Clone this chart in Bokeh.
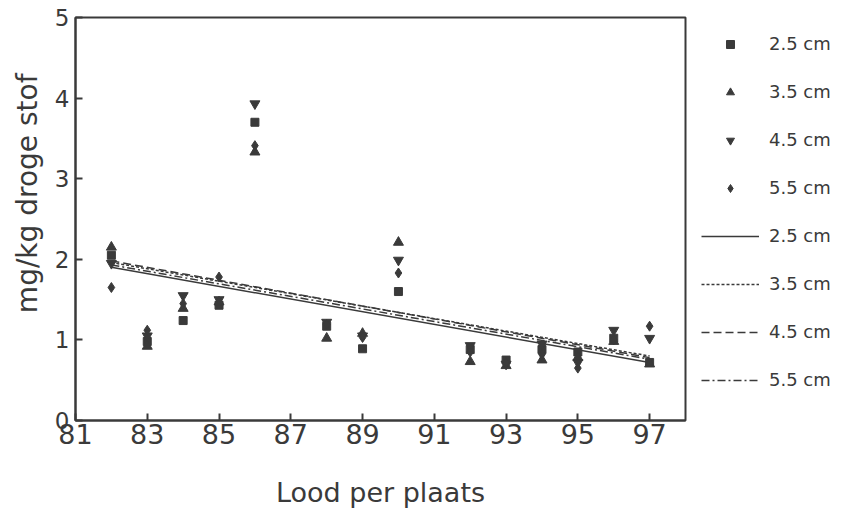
from bokeh.plotting import figure
from bokeh.models import FixedTicker, Legend, LegendItem, Title, Range1d
from bokeh.embed import file_html
from bokeh.resources import INLINE

# ---- data ----
x_vals = [82, 83, 84, 85, 86, 88, 89, 90, 92, 93, 94, 95, 96, 97]
s25 = [2.05, 0.98, 1.24, 1.43, 3.70, 1.17, 0.89, 1.60, 0.88, 0.75, 0.88, 0.85, 1.02, 0.72]
s35 = [2.15, 0.92, 1.39, 1.47, 3.33, 1.02, 1.08, 2.21, 0.73, 0.68, 0.75, 0.78, 0.98, 0.70]
s45 = [1.95, 1.05, 1.55, 1.50, 3.93, 1.22, 1.05, 1.99, 0.93, 0.70, 0.95, 0.72, 1.12, 1.02]
s55 = [1.65, 1.12, 1.45, 1.78, 3.41, 1.19, 1.03, 1.83, 0.85, 0.72, 0.82, 0.65, 1.00, 1.17]

line_x = [82, 97]
fit25 = [1.90, 0.72]
fit35 = [1.96, 0.80]
fit45 = [1.98, 0.78]
fit55 = [1.93, 0.76]

series_labels = ["2.5 cm", "3.5 cm", "4.5 cm", "5.5 cm"]
x_ticks = [81, 83, 85, 87, 89, 91, 93, 95, 97]
y_ticks = [0, 1, 2, 3, 4, 5]

FONT = "DejaVu Sans"
INK = "#3a3a3a"

p = figure(frame_width=610, frame_height=403, output_backend="svg", toolbar_location=None,
           x_range=Range1d(81, 98), y_range=Range1d(0, 5),
           min_border_left=75, min_border_right=0, min_border_top=17, min_border_bottom=80)

p.xgrid.visible = False
p.ygrid.visible = False
p.outline_line_color = INK
p.outline_line_width = 2
p.background_fill_color = "white"
p.border_fill_color = "white"

for ax in (p.xaxis[0], p.yaxis[0]):
    ax.axis_line_color = INK
    ax.axis_line_width = 2
    ax.major_tick_in = 7
    ax.major_tick_out = 0
    ax.major_tick_line_color = INK
    ax.major_tick_line_width = 2
    ax.minor_tick_line_color = None
    ax.major_label_text_font = FONT
    ax.major_label_text_color = INK

p.xaxis.ticker = FixedTicker(ticks=x_ticks)
p.yaxis.ticker = FixedTicker(ticks=y_ticks)
p.xaxis.major_label_text_font_size = "27px"
p.yaxis.major_label_text_font_size = "23px"
p.xaxis.major_label_standoff = 3
p.yaxis.major_label_standoff = 6

p.xaxis.axis_label = "Lood per plaats"
p.xaxis.axis_label_text_font = FONT
p.xaxis.axis_label_text_font_size = "27px"
p.xaxis.axis_label_text_font_style = "normal"
p.xaxis.axis_label_text_color = INK
p.xaxis.axis_label_standoff = 30

ytitle = Title(text="mg/kg droge stof", align="right", offset=56,
               text_font=FONT, text_font_size="28px", text_font_style="normal",
               text_color=INK, standoff=15)
p.add_layout(ytitle, "left")

# regression lines
l1 = p.line(line_x, fit25, line_color=INK, line_width=1.5)
l2 = p.line(line_x, fit35, line_color=INK, line_width=1.5, line_dash="3 2")
l3 = p.line(line_x, fit45, line_color=INK, line_width=1.5, line_dash="8 4")
l4 = p.line(line_x, fit55, line_color=INK, line_width=1.5, line_dash="8 3 2 3")

# points
m1 = p.scatter(x_vals, s25, marker="square", size=8, color=INK)
m2 = p.scatter(x_vals, s35, marker="triangle", size=10, color=INK)
m3 = p.scatter(x_vals, s45, marker="inverted_triangle", size=10, color=INK)
m4 = p.scatter(x_vals, s55, marker="diamond", size=10, color=INK)

items = [LegendItem(label=series_labels[i], renderers=[r]) for i, r in enumerate([m1, m2, m3, m4])]
items += [LegendItem(label=series_labels[i], renderers=[r]) for i, r in enumerate([l1, l2, l3, l4])]

legend = Legend(items=items, location="top_left", orientation="vertical",
                glyph_width=58, glyph_height=20, label_height=20, spacing=27,
                label_standoff=10, padding=0, margin=16,
                label_text_font=FONT, label_text_font_size="18px", label_text_color=INK,
                border_line_color=None, background_fill_alpha=0)
p.add_layout(legend, "right")

open("out.html", "w").write(file_html(p, INLINE))
